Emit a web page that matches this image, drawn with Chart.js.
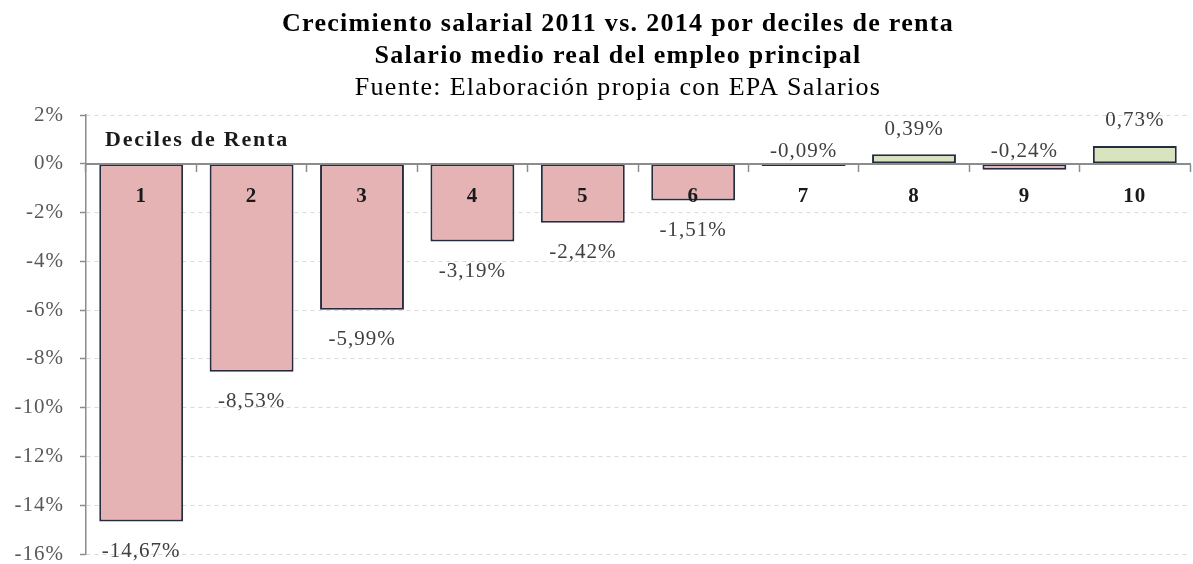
<!DOCTYPE html>
<html>
<head>
<meta charset="utf-8">
<script src="https://cdn.jsdelivr.net/npm/chart.js@4.4.1/dist/chart.umd.min.js"></script>
<style>
  html, body { margin: 0; padding: 0; background: #fff; }
  #wrap { width: 1193px; height: 564px; position: relative; }
</style>
</head>
<body>
<div id="wrap"><canvas id="deciles-chart"></canvas></div>
<script>
// ── DATA ─────────────────────────────────────────────────────
const deciles = ['1', '2', '3', '4', '5', '6', '7', '8', '9', '10'];
const growth = [-14.67, -8.53, -5.99, -3.19, -2.42, -1.51, -0.09, 0.39, -0.24, 0.73];
const yTicks = [2, 0, -2, -4, -6, -8, -10, -12, -14, -16];

const titleLines = [
  { text: 'Crecimiento salarial 2011 vs. 2014 por deciles de renta', bold: true },
  { text: 'Salario medio real del empleo principal', bold: true },
  { text: 'Fuente: Elaboración propia con EPA Salarios', bold: false },
];
const axisCaption = 'Deciles de Renta';

const SERIF = "'Liberation Serif', 'DejaVu Serif', serif";
const fmtPct = (v) => v.toFixed(2).replace('.', ',') + '%';

// ── PLUGINS ──────────────────────────────────────────────────

// slightly looser tracking for every label the library draws
const tracking = {
  id: 'tracking',
  beforeDraw(chart) { chart.ctx.letterSpacing = '1px'; },
};

// three-line heading plus the "Deciles de Renta" caption
const headingPlugin = {
  id: 'heading',
  afterDraw(chart) {
    const { ctx } = chart;
    ctx.save();
    ctx.fillStyle = '#000';
    ctx.textAlign = 'center';
    ctx.textBaseline = 'middle';
    ctx.letterSpacing = '1.3px';
    titleLines.forEach((line, i) => {
      ctx.font = `${line.bold ? 'bold ' : ''}26px ${SERIF}`;
      ctx.fillText(line.text, 618, 24 + i * 32);
    });
    ctx.font = `bold 22px ${SERIF}`;
    ctx.letterSpacing = '1.8px';
    ctx.textAlign = 'left';
    ctx.fillStyle = '#1a1a1a';
    ctx.fillText(axisCaption, chart.chartArea.left + 19, 140);
    ctx.restore();
  },
};

// value labels: below deep bars, above shallow / positive ones
const valueLabels = {
  id: 'valueLabels',
  afterDatasetsDraw(chart) {
    const { ctx } = chart;
    const meta = chart.getDatasetMeta(0);
    ctx.save();
    ctx.font = `21px ${SERIF}`;
    ctx.letterSpacing = '1px';
    ctx.fillStyle = '#404040';
    ctx.textAlign = 'center';
    ctx.textBaseline = 'middle';
    meta.data.forEach((bar, i) => {
      const v = growth[i];
      let y;
      if (v <= -1) y = bar.y + 30;
      else if (v > 0) y = bar.y - 25;
      else y = bar.base - 13;
      ctx.fillText(fmtPct(v), bar.x, y);
    });
    ctx.restore();
  },
};

// ── CHART ────────────────────────────────────────────────────

new Chart(document.getElementById('deciles-chart'), {
  type: 'bar',
  data: {
    labels: deciles,
    datasets: [{
      data: growth,
      backgroundColor: growth.map(v => v >= 0 ? '#d7e4bd' : '#e6b3b4'),
      borderColor: '#262c40',
      borderWidth: 2,
      borderSkipped: false,
      categoryPercentage: 1,
      barPercentage: 0.76,
    }],
  },
  options: {
    responsive: true,
    maintainAspectRatio: false,
    animation: false,
    layout: { padding: { top: 115, right: 3, bottom: 0, left: 0 } },
    plugins: {
      legend: { display: false },
      tooltip: { enabled: false },
      title: { display: false },
    },
    scales: {
      x: {
        position: { y: 0 },
        // axis sits on the zero line, so it takes no room of its own
        afterFit: (scale) => { scale.height = 0; },
        grid: {
          offset: true,
          drawOnChartArea: false,
          tickLength: 7,
          tickColor: '#8c8c8c',
          tickWidth: 1.5,
        },
        border: { display: true, color: '#8c8c8c', width: 2, z: 1 },
        ticks: {
          z: 1,
          color: '#1a1a1a',
          padding: 13,
          font: { family: SERIF, size: 21, weight: 'bold' },
        },
      },
      y: {
        min: -16,
        max: 2,
        afterBuildTicks: (scale) => { scale.ticks = yTicks.map(v => ({ value: v })); },
        afterFit: (scale) => {
          scale.width = 86;
          // tick padding is horizontal here; keep it from eating vertical room
          scale.paddingTop = 10;
          scale.paddingBottom = 10;
        },
        grid: {
          color: '#d9d9d9',
          tickColor: '#8c8c8c',
          tickLength: 6,
          tickWidth: 1.5,
        },
        border: { display: true, color: '#8c8c8c', width: 1.5, dash: [4, 4] },
        ticks: {
          color: '#595959',
          padding: 16,
          font: { family: SERIF, size: 21, lineHeight: 1 },
          callback: (v) => v + '%',
        },
      },
    },
  },
  plugins: [tracking, headingPlugin, valueLabels],
});
</script>
</body>
</html>
